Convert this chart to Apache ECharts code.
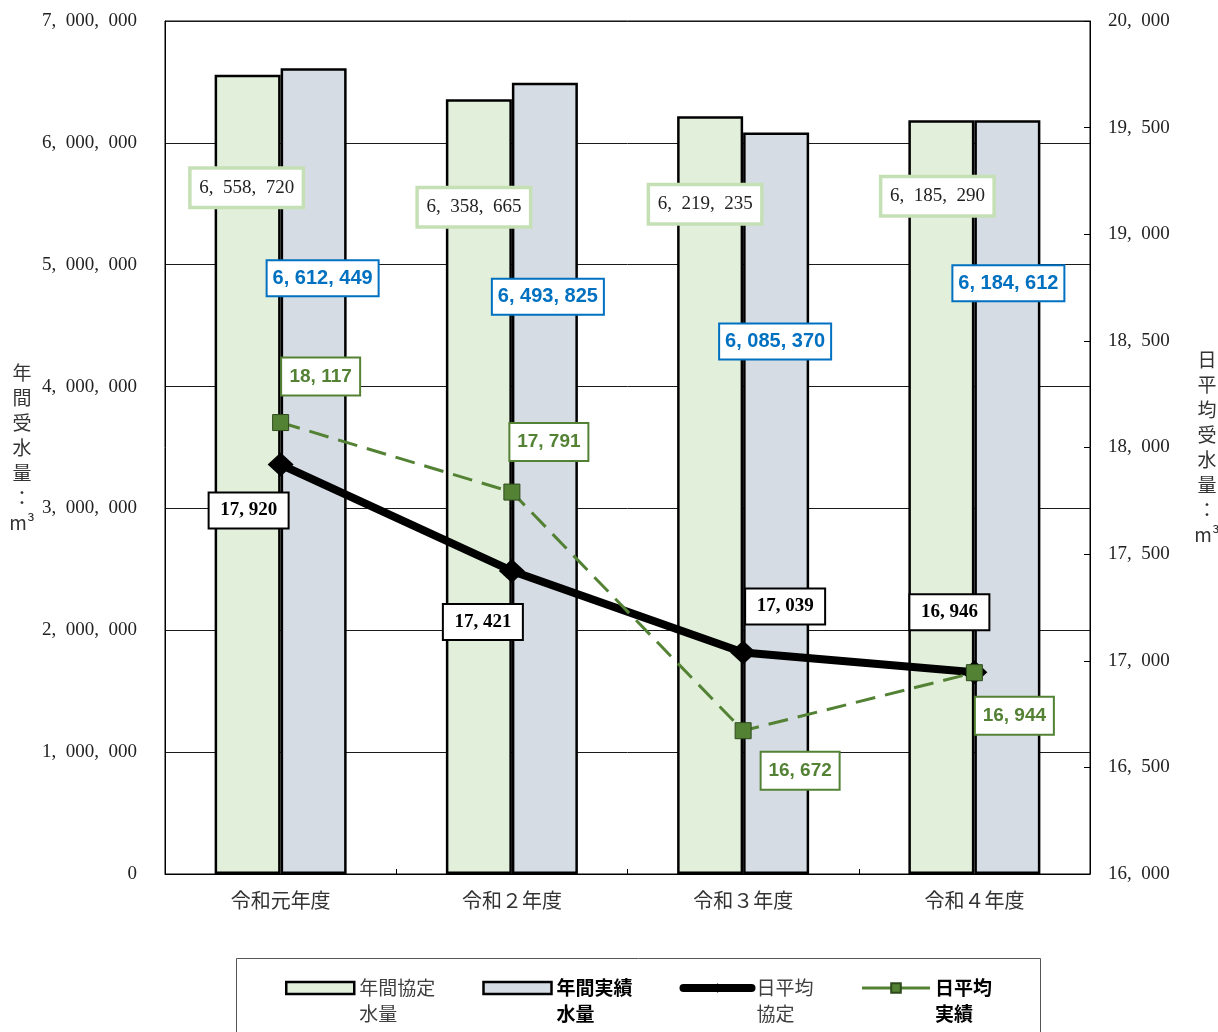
<!DOCTYPE html>
<html>
<head>
<meta charset="utf-8">
<title>受水量の推移</title>
<script src="https://cdn.jsdelivr.net/npm/echarts@6/dist/echarts.min.js"></script>
<style>
  html, body { margin: 0; padding: 0; background: #fff; }
  #chart { width: 1218px; height: 1032px; }
</style>
</head>
<body>
<div id="chart"></div>
<script>
// Fiscal years
const categories = ['令和元年度', '令和２年度', '令和３年度', '令和４年度'];

// Annual volumes (m³)
const annualContract = [6558720, 6358665, 6219235, 6185290];
const annualActual = [6612449, 6493825, 6085370, 6184612];

// Daily average volumes (m³)
const dailyContract = [17920, 17421, 17039, 16946];
const dailyActual = [18117, 17791, 16672, 16944];

// Axis ranges: [min, max, interval]
const leftAxisRange = [0, 7000000, 1000000];
const rightAxisRange = [16000, 20000, 500];

// Series names and their two-line legend captions
const seriesNames = ['年間協定水量', '年間実績水量', '日平均協定', '日平均実績'];
const legendCaptions = {
  '年間協定水量': '年間協定\n水量',
  '年間実績水量': '年間実績\n水量',
  '日平均協定': '日平均\n協定',
  '日平均実績': '日平均\n実績'
};

// Label placement offsets (pixels) for each data point
const contractBarLabelOffset = [[-1, 95], [-5, 90], [-5, 70], [-4, 58]];
const actualBarLabelOffset = [[9, 193], [3, 197], [-1, 192], [1, 146]];
const contractLineLabelOffset = [[-32, 46], [-29, 51], [42, -46], [-25, -60]];
const actualLineLabelOffset = [[40, -46], [37, -50], [57, 40], [40, 43]];

const SERIF = "'Liberation Serif', 'DejaVu Serif', 'Noto Sans CJK JP', serif";
const SANS = "'Liberation Sans', Arial, 'Noto Sans CJK JP', sans-serif";
const GOTHIC = "'Noto Sans CJK JP', sans-serif";

// Thousands separator: comma followed by a wide space, as in the printed figures
function fmt(v) {
  return String(Math.round(v)).replace(/\B(?=(\d{3})+(?!\d))/g, ',\u2002');
}
// Tighter separator for the bold boxed labels
function fmtBold(v) {
  return String(Math.round(v)).replace(/\B(?=(\d{3})+(?!\d))/g, ', ');
}

function withOffsets(values, offsets) {
  return values.map((v, i) => ({ value: v, label: { offset: offsets[i] } }));
}

const chart = echarts.init(document.getElementById('chart'), null, { renderer: 'canvas' });

const option = {
  backgroundColor: '#ffffff',
  animation: false,
  grid: {
    left: 165, right: 128, top: 21, bottom: 158,
    containLabel: false, outerBoundsMode: 'none',
    show: true, borderColor: '#000', borderWidth: 1
  },
  legend: {
    left: 285, top: 949, padding: 0,
    itemGap: 47, itemWidth: 68, itemHeight: 12,
    formatter: name => '\n' + legendCaptions[name],
    textStyle: { fontFamily: GOTHIC, fontSize: 19, lineHeight: 26, color: '#404040' },
    data: [
      { name: seriesNames[0], icon: 'rect', itemStyle: { borderColor: '#000', borderWidth: 2.5 } },
      { name: seriesNames[1], icon: 'rect', itemStyle: { borderColor: '#000', borderWidth: 2.5 },
        textStyle: { fontWeight: 'bold', color: '#000' } },
      { name: seriesNames[2], lineStyle: { width: 8, cap: 'round', color: '#000' } },
      { name: seriesNames[3], lineStyle: { width: 3, type: 'solid', color: '#548235' },
        textStyle: { fontWeight: 'bold', color: '#000' } }
    ]
  },
  graphic: [{
    type: 'rect', silent: true,
    shape: { x: 236.5, y: 958.5, width: 804, height: 120 },
    style: { fill: 'none', stroke: '#555', lineWidth: 1 }
  }],
  xAxis: {
    type: 'category',
    data: categories,
    axisLine: { lineStyle: { color: '#000', width: 1 } },
    axisTick: { show: true, inside: true, length: 5, lineStyle: { color: '#000' } },
    axisLabel: { margin: 16, fontFamily: GOTHIC, fontSize: 20, color: '#333' }
  },
  yAxis: [{
    type: 'value',
    min: leftAxisRange[0], max: leftAxisRange[1], interval: leftAxisRange[2],
    name: '年\n間\n受\n水\n量\n：\nm³',
    nameLocation: 'middle', nameRotate: 0, nameGap: 143,
    nameTextStyle: { fontFamily: GOTHIC, fontSize: 19, lineHeight: 25, color: '#333',
      align: 'center', verticalAlign: 'middle' },
    axisLine: { show: true, lineStyle: { color: '#000' } },
    axisTick: { show: false },
    splitLine: { show: true, lineStyle: { color: '#1a1a1a', width: 1 } },
    axisLabel: { margin: 28, fontFamily: SERIF, fontSize: 19, color: '#222', formatter: fmt }
  }, {
    type: 'value',
    min: rightAxisRange[0], max: rightAxisRange[1], interval: rightAxisRange[2],
    name: '日\n平\n均\n受\n水\n量\n：\nm³',
    nameLocation: 'middle', nameRotate: 0, nameGap: 117,
    nameTextStyle: { fontFamily: GOTHIC, fontSize: 19, lineHeight: 25, color: '#333',
      align: 'center', verticalAlign: 'middle' },
    axisLine: { show: true, lineStyle: { color: '#000' } },
    axisTick: { show: true, inside: true, length: 6, lineStyle: { color: '#000' } },
    splitLine: { show: false },
    axisLabel: { margin: 18, fontFamily: SERIF, fontSize: 19, color: '#222', formatter: fmt }
  }],
  series: [{
    name: seriesNames[0],
    type: 'bar',
    barWidth: 66, barGap: '0%',
    data: withOffsets(annualContract, contractBarLabelOffset),
    itemStyle: { color: '#e2efda', borderColor: '#000', borderWidth: 2.5 },
    label: {
      show: true, position: 'insideTop', distance: 0,
      formatter: p => fmt(p.value),
      fontFamily: SERIF, fontSize: 19, lineHeight: 24, color: '#222',
      backgroundColor: '#fff', borderColor: '#c5e0b4', borderWidth: 3.5,
      padding: [6, 7], width: 96, align: 'center'
    },
    z: 2
  }, {
    name: seriesNames[1],
    type: 'bar',
    barWidth: 66, barGap: '0%',
    data: withOffsets(annualActual, actualBarLabelOffset),
    itemStyle: { color: '#d6dce4', borderColor: '#000', borderWidth: 2.5 },
    label: {
      show: true, position: 'insideTop', distance: 0,
      formatter: p => fmtBold(p.value),
      fontFamily: SANS, fontWeight: 'bold', fontSize: 20, lineHeight: 22, color: '#0070c0',
      backgroundColor: '#fff', borderColor: '#0070c0', borderWidth: 2,
      padding: [6, 6], width: 98, align: 'center'
    },
    z: 2
  }, {
    name: seriesNames[2],
    type: 'line',
    yAxisIndex: 1,
    data: withOffsets(dailyContract, contractLineLabelOffset),
    symbol: 'diamond', symbolSize: [26, 24],
    lineStyle: { color: '#000', width: 8 },
    itemStyle: { color: '#000' },
    label: {
      show: true, position: 'inside',
      formatter: p => fmtBold(p.value),
      fontFamily: SERIF, fontWeight: 'bold', fontSize: 19, lineHeight: 22, color: '#000',
      backgroundColor: '#fff', borderColor: '#000', borderWidth: 2,
      padding: [6, 7], width: 64, align: 'center'
    },
    z: 3
  }, {
    name: seriesNames[3],
    type: 'line',
    yAxisIndex: 1,
    data: withOffsets(dailyActual, actualLineLabelOffset),
    symbol: 'rect', symbolSize: 16,
    lineStyle: { color: '#548235', width: 3, type: [20, 10] },
    itemStyle: { color: '#548235', borderColor: '#2e4a1c', borderWidth: 1 },
    label: {
      show: true, position: 'inside',
      formatter: p => fmtBold(p.value),
      fontFamily: SANS, fontWeight: 'bold', fontSize: 19, lineHeight: 22, color: '#548235',
      backgroundColor: '#fff', borderColor: '#548235', borderWidth: 2,
      padding: [7, 7], width: 63, align: 'center'
    },
    z: 4
  }]
};

chart.setOption(option);
</script>
</body>
</html>
